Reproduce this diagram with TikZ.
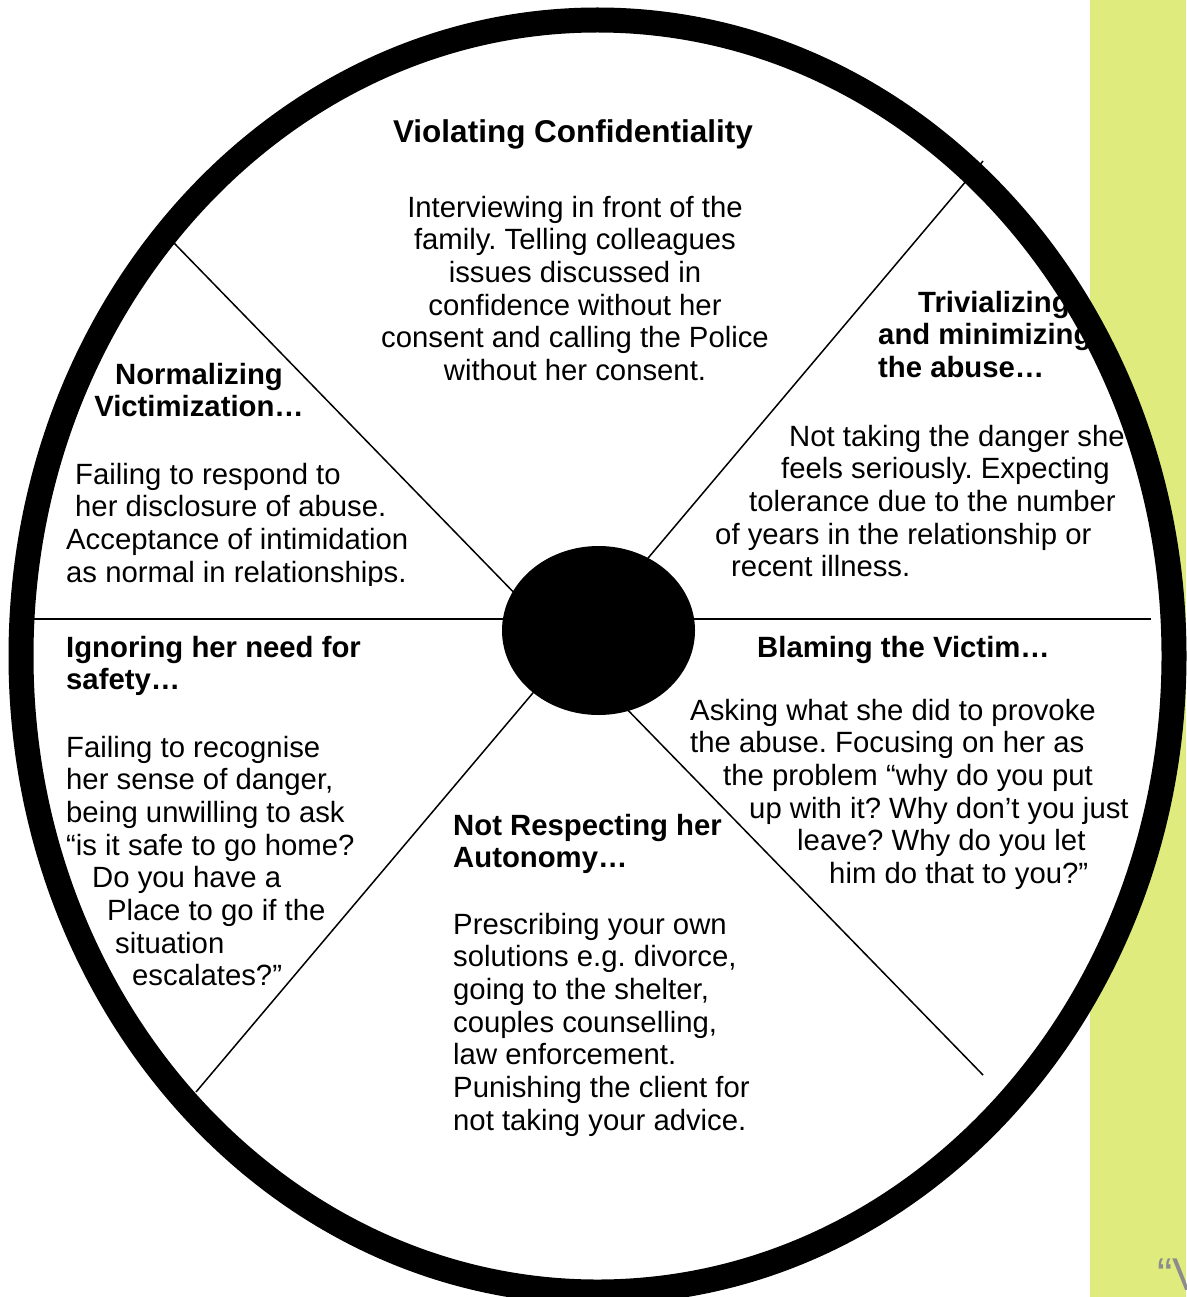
\documentclass[tikz,border=0pt]{standalone}
\usepackage{fontspec}
\setmainfont{Liberation Sans}
\usetikzlibrary{shapes.geometric}
\frenchspacing
\definecolor{panel}{RGB}{223,236,125}

\tikzset{
  body/.style={font=\fontsize{29.3}{32.7}\selectfont, align=left, anchor=base west, inner sep=0pt},
  head/.style={body, font=\bfseries\fontsize{29.3}{32.7}\selectfont},
  spoke/.style={line width=1.5pt},
}

\begin{document}
\begin{tikzpicture}[x=1pt,y=-1pt]
  \useasboundingbox (0,0) rectangle (1186,1297);
  \fill[panel] (1090,0) rectangle (1186,1297);
  \fill[white] (597.5,656) ellipse [x radius=576.5pt, y radius=636pt];

  % spokes of the wheel
  \coordinate (wl) at (33,619);
  \coordinate (wr) at (1151,619);
  \coordinate (ulin) at (525,604);
  \coordinate (ulout) at (174,243);
  \coordinate (urin) at (638,570);
  \coordinate (urout) at (983,161);
  \coordinate (llin) at (543,681);
  \coordinate (llout) at (196,1092);
  \coordinate (lrin) at (620,702);
  \coordinate (lrout) at (983,1075);
  \draw[spoke] (wl) -- (wr);
  \draw[spoke] (ulin) -- (ulout);
  \draw[spoke] (urin) -- (urout);
  \draw[spoke] (llin) -- (llout);
  \draw[spoke] (lrin) -- (lrout);
  \node (hub) [ellipse, fill=black, minimum width=193pt, minimum height=169pt, inner sep=0pt] at (598.5,630.5) {};

  % texts are placed by the baseline of their last line
  \node (confhead) [head, align=center, anchor=base, font=\bfseries\fontsize{31.5}{35}\selectfont] at (573,143) {Violating Confidentiality};
  \node (confbody) [body, align=center, anchor=base] at (575,380.5) {Interviewing in front of the\\family. Telling colleagues\\issues discussed in\\confidence without her\\consent and calling the Police\\without her consent.};

  \node (trivhead) [head] at (878,377.4) {\hspace*{40pt}Trivializing\\and minimizing\\the abuse…};
  \node (trivbody) [body] at (715,576.8) {\hspace*{74pt}Not taking the danger she\\\hspace*{66pt}feels seriously. Expecting\\\hspace*{34pt}tolerance due to the number\\of years in the relationship or\\\hspace*{16pt}recent illness.};

  \node (normhead) [head, align=center, anchor=base] at (199,416.7) {Normalizing\\Victimization…};
  \begin{scope}
    \clip (0,0) rectangle (500,585);
    \node (normbody) [body] at (66,582.1) {\hspace*{9pt}Failing to respond to\\\hspace*{9pt}her disclosure of abuse.\\Acceptance of intimidation\\as normal in relationships.};
  \end{scope}

  \node (safehead) [head] at (66,689.7) {Ignoring her need for\\safety…};
  \node (safebody) [body] at (66,985.9) {Failing to recognise\\her sense of danger,\\being unwilling to ask\\“is it safe to go home?\\\hspace*{26pt}Do you have a\\\hspace*{41pt}Place to go if the\\\hspace*{49pt}situation\\\hspace*{66pt}escalates?”};

  \node (autohead) [head] at (453,867.7) {Not Respecting her\\Autonomy…};
  \node (autobody) [body] at (453,1130.2) {Prescribing your own\\solutions e.g. divorce,\\going to the shelter,\\couples counselling,\\law enforcement.\\Punishing the client for\\not taking your advice.};

  \node (blamehead) [head] at (757,657) {Blaming the Victim…};
  \node (blamebody) [body] at (690,883.5) {Asking what she did to provoke\\the abuse. Focusing on her as\\\hspace*{33pt}the problem “why do you put\\\hspace*{59pt}up with it? Why don’t you just\\\hspace*{107pt}leave? Why do you let\\\hspace*{139pt}him do that to you?”};

  \draw[line width=25pt] (597.5,656) ellipse [x radius=576.5pt, y radius=636pt];
  \node (mark) [anchor=base west, inner sep=0pt, text=black!45, font=\fontsize{46}{46}\selectfont] at (1157,1290) {“V};
\end{tikzpicture}
\end{document}
